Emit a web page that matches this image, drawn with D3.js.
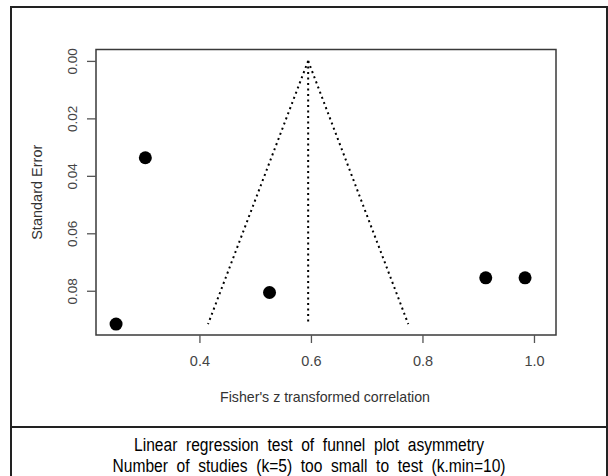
<!DOCTYPE html>
<html>
<head>
<meta charset="utf-8">
<script src="https://cdn.jsdelivr.net/npm/d3@7"></script>
<style>
  html, body { margin: 0; padding: 0; background: #fff; }
  svg { display: block; }
  text { font-family: "Liberation Sans", Arial, sans-serif; }
</style>
</head>
<body>
<svg id="chart" width="608" height="476"></svg>
<script>
// Study-level Fisher's z effects and their standard errors
const effects = [0.2505, 0.303, 0.5257, 0.9135, 0.984];
const stdErrors = [0.0916, 0.0337, 0.0806, 0.0755, 0.0755];
// Pooled estimate (funnel centre)
const pooled = 0.595;
const xTicks = [0.4, 0.6, 0.8, 1.0];
const yTicks = [0.00, 0.02, 0.04, 0.06, 0.08];
const xLabel = "Fisher's z transformed correlation";
const yLabel = "Standard Error";
const noteLines = [
  "Linear regression test of funnel plot asymmetry",
  "Number of studies (k=5) too small to test (k.min=10)"
];
const noteWidths = [350, 393];

const svg = d3.select("#chart");
const W = 608, H = 476;

// plot region
const box = { left: 96, right: 556, top: 49.5, bottom: 335 };

const x = d3.scaleLinear().domain([0.2145, 1.0395]).range([box.left, box.right]);
const y = d3.scaleLinear().domain([-0.00397, 0.0954]).range([box.top, box.bottom]);

// outer frame with a divider above the note
const frame = svg.append("g").attr("fill", "none").attr("stroke", "#222").attr("stroke-width", 2);
frame.append("path").attr("d", `M11,${H} L11,7 L607,7 L607,${H}`);
frame.append("line").attr("x1", 11).attr("x2", 607).attr("y1", 427).attr("y2", 427);

// funnel lines (dotted)
const seMax = d3.max(stdErrors);
const funnel = svg.append("g").attr("stroke", "#000").attr("stroke-width", 2)
  .attr("stroke-dasharray", "2,3.5").attr("fill", "none");
funnel.append("line")
  .attr("x1", x(pooled)).attr("y1", y(0)).attr("x2", x(pooled)).attr("y2", y(seMax));
funnel.append("line")
  .attr("x1", x(pooled)).attr("y1", y(0)).attr("x2", x(pooled - 1.96 * seMax)).attr("y2", y(seMax));
funnel.append("line")
  .attr("x1", x(pooled)).attr("y1", y(0)).attr("x2", x(pooled + 1.96 * seMax)).attr("y2", y(seMax));

// study points
svg.append("g").selectAll("circle")
  .data(effects.map((e, i) => ({ e, se: stdErrors[i] })))
  .join("circle")
  .attr("cx", d => x(d.e))
  .attr("cy", d => y(d.se))
  .attr("r", 6.5)
  .attr("fill", "#000");

// plot box
svg.append("rect")
  .attr("x", box.left).attr("y", box.top)
  .attr("width", box.right - box.left).attr("height", box.bottom - box.top)
  .attr("fill", "none").attr("stroke", "#3a3a3a").attr("stroke-width", 1.5);

// x axis
const xAxis = svg.append("g")
  .attr("transform", `translate(0,${box.bottom})`)
  .call(d3.axisBottom(x).tickValues(xTicks).tickFormat(d3.format(".1f")).tickSize(8).tickPadding(13));
xAxis.select(".domain").remove();
xAxis.selectAll(".tick line").attr("stroke", "#555").attr("stroke-width", 1.3);
xAxis.selectAll(".tick text").attr("fill", "#444").attr("font-size", 14.5)
  .attr("font-family", "'Liberation Sans', Arial, sans-serif");

// y axis with rotated labels
const yAxis = svg.append("g")
  .attr("transform", `translate(${box.left},0)`)
  .call(d3.axisLeft(y).tickValues(yTicks).tickFormat(d3.format(".2f")).tickSize(9));
yAxis.select(".domain").remove();
yAxis.selectAll(".tick line").attr("stroke", "#555").attr("stroke-width", 1.3);
yAxis.selectAll(".tick text")
  .attr("fill", "#444").attr("font-size", 13.5)
  .attr("font-family", "'Liberation Sans', Arial, sans-serif")
  .attr("x", null).attr("dy", null)
  .attr("text-anchor", "middle")
  .attr("transform", "translate(-19,0) rotate(-90)");

// axis titles
svg.append("text")
  .attr("x", 325).attr("y", 402)
  .attr("text-anchor", "middle")
  .attr("font-size", 15).attr("fill", "#333")
  .attr("textLength", 210).attr("lengthAdjust", "spacingAndGlyphs")
  .text(xLabel);

svg.append("text")
  .attr("transform", `translate(42,${(box.top + box.bottom) / 2}) rotate(-90)`)
  .attr("text-anchor", "middle")
  .attr("font-size", 14.5).attr("fill", "#333")
  .text(yLabel);

// note under the plot, set in a condensed face
svg.append("g").selectAll("text")
  .data(noteLines)
  .join("text")
  .attr("x", 309)
  .attr("y", (d, i) => 451 + i * 21)
  .attr("text-anchor", "middle")
  .attr("font-size", 18)
  .attr("fill", "#000")
  .attr("word-spacing", 5)
  .attr("textLength", (d, i) => noteWidths[i])
  .attr("lengthAdjust", "spacingAndGlyphs")
  .text(d => d);
</script>
</body>
</html>
